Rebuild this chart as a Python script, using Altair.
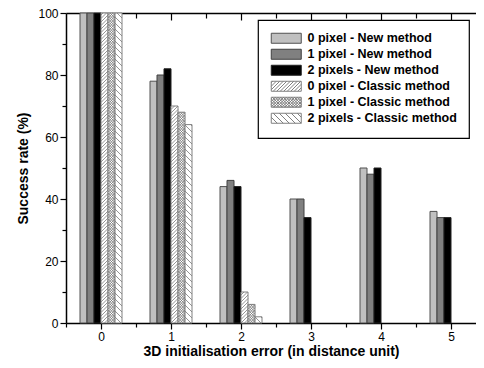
import altair as alt
import pandas as pd

# ---- data ----
groups = [0, 1, 2, 3, 4, 5]
series = ["0 pixel - New method", "1 pixel - New method", "2 pixels - New method",
          "0 pixel - Classic method", "1 pixel - Classic method", "2 pixels - Classic method"]
new0 = [100, 78, 44, 40, 50, 36]
new1 = [100, 80, 46, 40, 48, 34]
new2 = [100, 82, 44, 34, 50, 34]
cls0 = [100, 70, 10, 0, 0, 0]
cls1 = [100, 68, 6, 0, 0, 0]
cls2 = [100, 64, 2, 0, 0, 0]
values = [new0, new1, new2, cls0, cls1, cls2]

# ---- style ----
offsets = [-0.3, -0.2, -0.1, 0.0, 0.1, 0.2]
bar_w = 0.1
fills = ["#c0c0c0", "#808080", "#000000", "#ffffff", "#ffffff", "#ffffff"]
strokes = ["#505050", "#404040", "#202020", "#808080", "#808080", "#808080"]
hatch = [None, None, None, "/", "x", "\\"]
spacing_px = {"/": 3.5, "x": 2.6, "\\": 6.0}

W, H = 410, 310
XMIN, XMAX = -0.5, -0.5 + W / 70.0
PX_X = 70.0
PX_Y = H / 100.0

rows = []
for si, s in enumerate(series):
    for gi, g in enumerate(groups):
        v = values[si][gi]
        x0 = g + offsets[si]
        rows.append(dict(series=s, x=x0, x2=x0 + bar_w, v=v, v0=0,
                         fill=fills[si], stroke=strokes[si]))
bars_df = pd.DataFrame(rows)


def segs(kind, w, h, sp):
    out = []
    if kind in ("/", "x"):
        c = -w
        while c < h:
            xs, xe = max(0.0, -c), min(w, h - c)
            if xe - xs > 0.05:
                out.append((xs, xs + c, xe, xe + c))
            c += sp
    if kind in ("\\", "x"):
        c = 0.0
        while c < h + w:
            xs, xe = max(0.0, c - h), min(w, c)
            if xe - xs > 0.05:
                out.append((xs, c - xs, xe, c - xe))
            c += sp
    return out


hrows = []
for si, s in enumerate(series):
    if hatch[si] is None:
        continue
    for gi, g in enumerate(groups):
        v = values[si][gi]
        if v <= 0:
            continue
        x0 = g + offsets[si]
        for (a, b, c, d) in segs(hatch[si], bar_w * PX_X, v * PX_Y, spacing_px[hatch[si]]):
            hrows.append(dict(hx=x0 + a / PX_X, hy=b / PX_Y, hx2=x0 + c / PX_X, hy2=d / PX_Y))
hatch_df = pd.DataFrame(hrows)


# legend symbol paths (unit box: x -1..5, y -1..1, svg y down)
def sym_path(kind):
    p = "M-1,-1H5V1H-1Z"
    if kind is None:
        return p
    sp = {"/": 0.7, "x": 0.55, "\\": 1.2}[kind]
    w, h = 6.0, 2.0
    for (a, b, c, d) in segs(kind, w, h, sp):
        p += f"M{a-1:.3f},{1-b:.3f}L{c-1:.3f},{1-d:.3f}"
    return p


paths = [sym_path(k) for k in hatch]

xscale = alt.Scale(domain=[XMIN, XMAX], nice=False, zero=False)
yscale = alt.Scale(domain=[0, 100], nice=False)

xb = alt.Axis(orient="bottom", values=[v / 2 for v in range(-1, 11)], format=".0f",
              labelExpr="datum.value % 1 === 0 ? datum.label : ''",
              tickSize={"condition": {"test": "datum.value % 1 === 0", "value": 6}, "value": 4},
              title="3D initialisation error (in distance unit)", grid=False,
              titlePadding=2, labelPadding=2)
yl = alt.Axis(orient="left", values=list(range(0, 101, 10)),
              labelExpr="datum.value % 20 === 0 ? datum.label : ''",
              tickSize={"condition": {"test": "datum.value % 20 === 0", "value": 6}, "value": 4},
              title="Success rate (%)", grid=False, titlePadding=7, labelPadding=2)

bars = alt.Chart(bars_df).transform_filter("datum.v > 0").mark_rect(strokeWidth=1).encode(
    x=alt.X("x:Q", scale=xscale, axis=xb),
    x2="x2:Q",
    y=alt.Y("v:Q", scale=yscale, axis=yl),
    y2="v0:Q",
    fill=alt.Fill("fill:N", scale=None),
    stroke=alt.Stroke("stroke:N", scale=None),
)

hatch_layer = alt.Chart(hatch_df).mark_rule(color="#7a7a7a", strokeWidth=0.8).encode(
    x=alt.X("hx:Q", scale=xscale,
            axis=alt.Axis(orient="top", domain=True, ticks=False, labels=False, title=None, grid=False)),
    x2="hx2:Q",
    y=alt.Y("hy:Q", scale=yscale, axis=None),
    y2="hy2:Q",
)

leg_df = pd.DataFrame({"series": series, "x": [0.0] * 6, "v": [0.0] * 6})
legend_layer = alt.Chart(leg_df).transform_filter("false").mark_point(filled=True, size=100, opacity=1).encode(
    x=alt.X("x:Q", scale=xscale,
            axis=alt.Axis(orient="top", offset=-7, domain=False, labels=False, title=None, grid=False,
                          values=[0, 1, 2, 3, 4, 5], tickSize=7)),
    y=alt.Y("v:Q", scale=yscale, axis=None),
    fill=alt.Fill("series:N", scale=alt.Scale(domain=series, range=fills),
                  legend=alt.Legend(title=None)),
    shape=alt.Shape("series:N", scale=alt.Scale(domain=series, range=paths),
                    legend=alt.Legend(title=None)),
    stroke=alt.Stroke("series:N", scale=alt.Scale(domain=series, range=strokes),
                      legend=alt.Legend(title=None)),
)

half_layer = alt.Chart(leg_df).transform_filter("false").mark_point(opacity=0).encode(
    x=alt.X("x:Q", scale=xscale,
            axis=alt.Axis(orient="top", offset=-5, domain=False, labels=False, title=None, grid=False,
                          values=[0.5, 1.5, 2.5, 3.5, 4.5], tickSize=5)),
    y=alt.Y("v:Q", scale=yscale, axis=None),
)

chart = alt.layer(bars, hatch_layer, legend_layer, half_layer).resolve_axis(
    x="independent", y="independent"
).resolve_scale(x="shared", y="shared").properties(
    width=W, height=H,
    autosize=alt.AutoSizeParams(type="none"),
    padding={"left": 58, "top": 5, "right": 0, "bottom": 37},
).configure_view(stroke=None).configure_axis(
    domainColor="black", domainWidth=1.5, tickColor="black", tickWidth=1.2,
    labelFont="Liberation Sans", labelFontSize=12, labelColor="black",
    titleFont="Liberation Sans", titleFontSize=14, titleFontWeight="bold", titleColor="black",
).configure_legend(
    orient="none", legendX=192, legendY=7,
    fillColor="white", strokeColor="black", strokeWidth=1.2,
    padding=12, rowPadding=1, symbolSize=100, symbolStrokeWidth=1,
    labelFont="Liberation Sans", labelFontSize=12.5, labelFontWeight="bold", labelColor="black",
    labelOffset=25, labelLimit=300,
)

chart.save("out.html", embed_options={"renderer": "svg", "actions": False})
